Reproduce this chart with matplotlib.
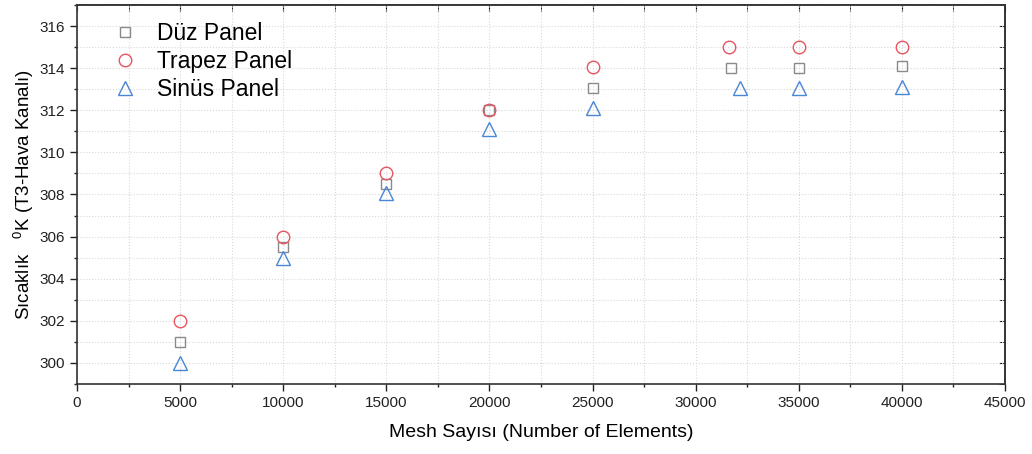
import numpy as np
import matplotlib.pyplot as plt
from matplotlib.ticker import MultipleLocator

plt.rcParams['font.family'] = ['Liberation Sans', 'DejaVu Sans']
plt.rcParams['mathtext.fontset'] = 'custom'
plt.rcParams['mathtext.rm'] = 'Liberation Sans'

# mesh counts (x) for each panel type
mesh_duz = [5000, 10000, 15000, 20000, 25000, 31700, 35000, 40000]
mesh_trapez = [5000, 10000, 15000, 20000, 25000, 31600, 35000, 40000]
mesh_sinus = [5000, 10000, 15000, 20000, 25000, 32150, 35000, 40000]

# temperatures (K)
temp_duz = [301.0, 305.5, 308.5, 312.0, 313.05, 314.0, 314.0, 314.1]
temp_trapez = [302.0, 306.0, 309.0, 312.0, 314.05, 315.0, 315.0, 315.0]
temp_sinus = [300.0, 305.0, 308.05, 311.1, 312.1, 313.05, 313.05, 313.1]

fig = plt.figure(figsize=(10.32, 4.54), dpi=100)
ax = fig.add_axes([0.0746, 0.1542, 0.8992, 0.8348])

ax.plot(mesh_duz, temp_duz, linestyle='none', marker='s', markersize=7.3,
        markerfacecolor='none', markeredgecolor='#8a8a8a', markeredgewidth=1.0,
        label='Düz Panel')
ax.plot(mesh_trapez, temp_trapez, linestyle='none', marker='o', markersize=9,
        markerfacecolor='none', markeredgecolor='#e8555f', markeredgewidth=1.0,
        label='Trapez Panel')
ax.plot(mesh_sinus, temp_sinus, linestyle='none', marker='^', markersize=10.5,
        markerfacecolor='none', markeredgecolor='#4a86d6', markeredgewidth=1.0,
        label='Sinüs Panel')

ax.set_xlim(0, 45000)
ax.set_ylim(299, 317)
ax.xaxis.set_major_locator(MultipleLocator(5000))
ax.xaxis.set_minor_locator(MultipleLocator(2500))
ax.yaxis.set_major_locator(MultipleLocator(2))
ax.yaxis.set_minor_locator(MultipleLocator(1))

ax.grid(which='both', color='#d8d8d8', linestyle=':', linewidth=0.8)
ax.set_axisbelow(True)

ax.tick_params(which='both', direction='out', labelsize=11, width=1.0,
               colors='#222222')
ax.tick_params(which='major', length=5)
ax.tick_params(which='minor', length=2.5)

# top and right ticks point inward
sx = ax.secondary_xaxis('top')
sx.xaxis.set_major_locator(MultipleLocator(5000))
sx.xaxis.set_minor_locator(MultipleLocator(2500))
sx.tick_params(which='both', direction='in', labeltop=False, length=4)
sy = ax.secondary_yaxis('right')
sy.yaxis.set_major_locator(MultipleLocator(2))
sy.yaxis.set_minor_locator(MultipleLocator(1))
sy.tick_params(which='both', direction='in', labelright=False, length=4)
for s in [sx, sy]:
    for spine in s.spines.values():
        spine.set_linewidth(1.2)
        spine.set_color('#333333')
for spine in ax.spines.values():
    spine.set_linewidth(1.2)
    spine.set_color('#333333')

ax.set_xlabel('Mesh Sayısı (Number of Elements)', fontsize=14, labelpad=10)
ax.set_ylabel('Sıcaklık   $^0$K (T3-Hava Kanalı)', fontsize=13.5, labelpad=3)

leg = ax.legend(loc='upper left', frameon=False, fontsize=16.5, handletextpad=0.4,
                handlelength=2.0, borderaxespad=0, borderpad=0.4,
                labelspacing=0.2, bbox_to_anchor=(0.017, 0.978))

fig.savefig('out.png', dpi=100)
